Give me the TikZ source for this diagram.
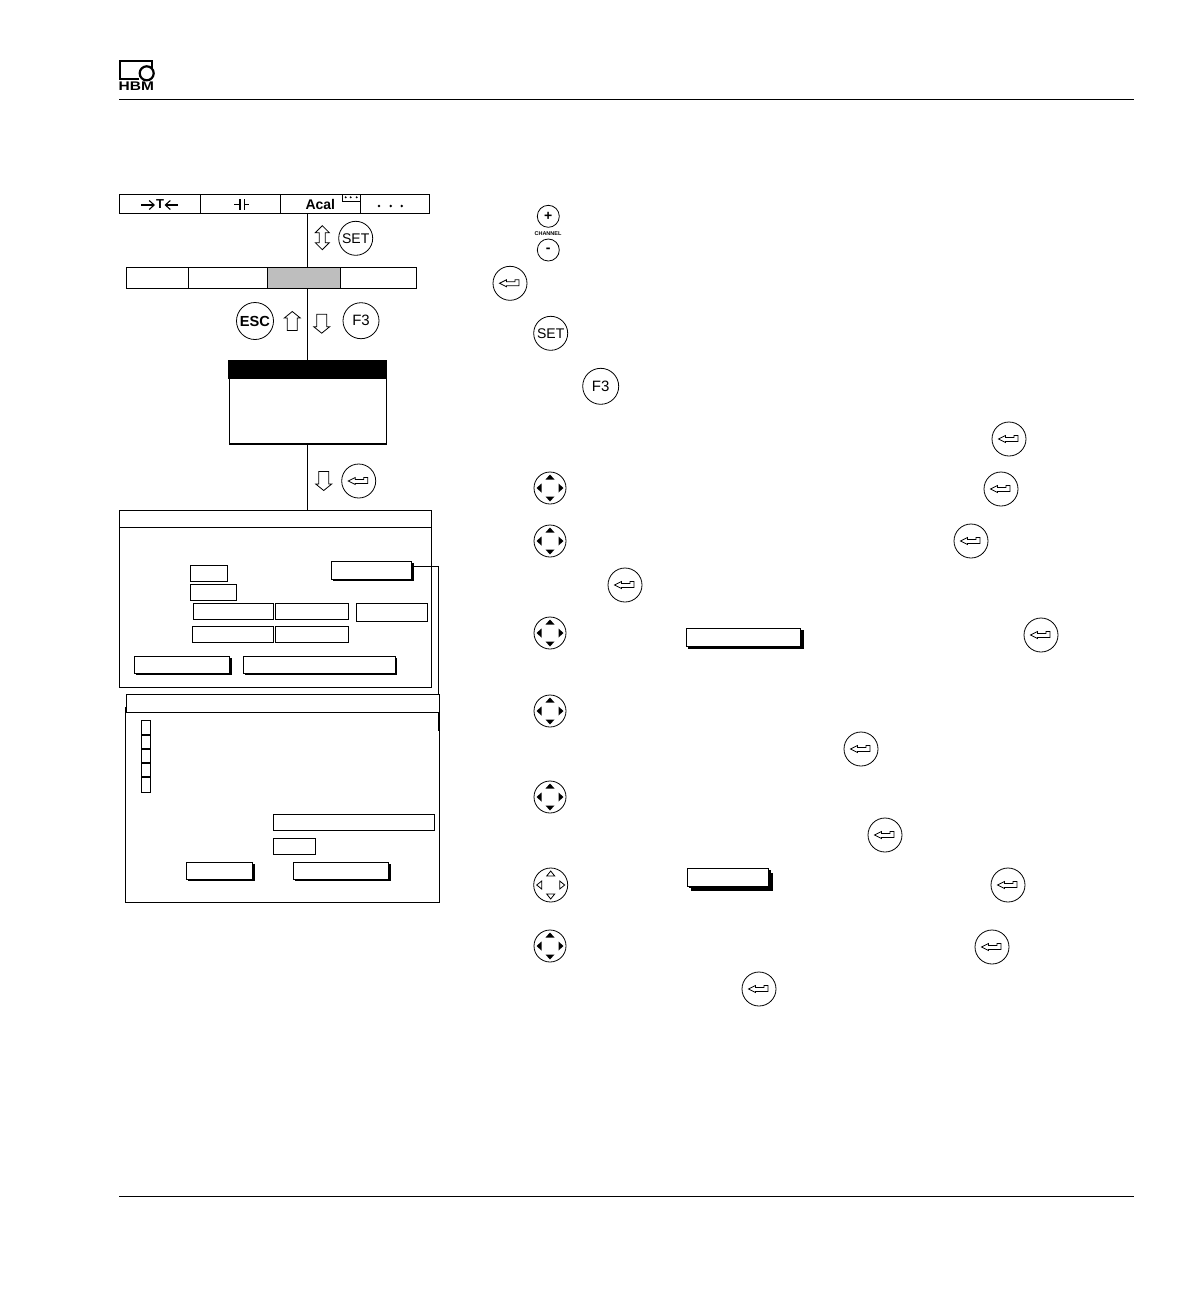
\documentclass[tikz,border=0pt]{standalone}
\usepackage{fontspec}
\setmainfont{Liberation Sans}
\usetikzlibrary{arrows.meta, positioning, shadows}
\definecolor{CellGray}{rgb}{0.745, 0.745, 0.745}

\begin{document}
\begin{tikzpicture}[
    x=1pt, y=-1pt,
    line width=1pt,
    font=\fontsize{14pt}{16pt}\selectfont,
    cell/.style={draw, fill=white, inner sep=0pt, outer sep=0pt},
    tabcell/.style={cell, minimum height=19pt},
    barcell/.style={cell, minimum height=21pt},
    fieldbox/.style={cell, anchor=north west, minimum height=16pt},
    shadowbtn/.style={cell, anchor=north west, minimum height=17pt,
        general shadow={fill=black, shadow xshift=1.8pt, shadow yshift=-1.8pt}},
    chkbox/.style={cell, anchor=north west, minimum width=9pt, minimum height=14.3pt},
    knob/.style={draw, circle, inner sep=0pt, outer sep=0pt, line width=0.8pt, minimum size=34pt},
    hollow/.style={line width=0.8pt, fill=white},
    barb/.style={line width=1.1pt, -{Straight Barb[length=5pt, width=9pt]}},
    enterkey/.pic={
        \node[knob] (-c) at (0,0) {};
        \draw[hollow] (-10.5,0) -- (-3.5,-3.5) -- (-3.5,-1.5) -- (5,-1.5) -- (5,-3.5) -- (9,-3.5)
            -- (9,2.5) -- (-3.5,2.5) -- (-3.5,3.5) -- cycle;
    },
    cursorkey/.pic={
        \node[knob, minimum size=32pt] (-c) at (0,0) {};
        \fill (0,-13.5) -- (4.5,-8.5) -- (-4.5,-8.5) -- cycle;
        \fill (0,13.5) -- (4.5,8.5) -- (-4.5,8.5) -- cycle;
        \fill (-13.5,0) -- (-8.5,-4.5) -- (-8.5,4.5) -- cycle;
        \fill (13.5,0) -- (8.5,-4.5) -- (8.5,4.5) -- cycle;
    },
    opencursor/.pic={
        \node[knob] (-c) at (0,0) {};
        \draw[hollow] (0,-14) -- (4,-9) -- (-4,-9) -- cycle;
        \draw[hollow] (0,14) -- (4,9) -- (-4,9) -- cycle;
        \draw[hollow] (-14,0) -- (-9,-4) -- (-9,4) -- cycle;
        \draw[hollow] (14,0) -- (9,-4) -- (9,4) -- cycle;
    },
    arrowdown/.pic={
        \draw[hollow] (-5,-9.5) -- (5,-9.5) -- (5,3) -- (8,3) -- (0,9.5) -- (-8,3) -- (-5,3) -- cycle;
    },
    arrowup/.pic={
        \draw[hollow] (-5,9.5) -- (5,9.5) -- (5,-3) -- (8,-3) -- (0,-9.5) -- (-8,-3) -- (-5,-3) -- cycle;
    },
    arrowboth/.pic={
        \draw[hollow] (0,-12) -- (7,-5) -- (3,-5) -- (3,5) -- (7,5) -- (0,12) -- (-7,5) -- (-3,5)
            -- (-3,-5) -- (-7,-5) -- cycle;
    },
]
\useasboundingbox (0,0) rectangle (1191,1304);

% logo
\draw[line width=2.2pt] (152.3,68) -- (152.3,61) -- (120.2,61) -- (120.2,79) -- (139,79);
\node[draw, fill=white, circle, line width=2.2pt, minimum size=14pt, inner sep=0pt] (logocirc) at (146.7,73.3) {};
\node[font=\fontsize{12.5pt}{13pt}\selectfont\bfseries, xscale=1.24, transform shape, inner sep=0pt]
    (logotext) at (136.3,86.2) {HBM};

% header and footer rules
\coordinate (topL) at (119,99);
\coordinate (topR) at (1134,99);
\coordinate (botL) at (119,1196);
\coordinate (botR) at (1134,1196);
\draw (topL) -- (topR);
\draw (botL) -- (botR);

% softkey bar
\node[tabcell, minimum width=81pt] (tab1) at (159.8,204) {};
\node[tabcell, minimum width=80pt, right=0pt of tab1] (tab2) {};
\node[tabcell, minimum width=80pt, right=0pt of tab2, font=\fontsize{14pt}{16pt}\selectfont\bfseries] (tab3) {Acal};
\node[tabcell, minimum width=69pt, right=0pt of tab3] (tab4) {};
\node[cell, minimum width=18pt, minimum height=7pt, anchor=north east, fill=none] (tabmark) at (tab3.north east) {};
\foreach \xx in {345.7,350.7,356.7} \fill (\xx,197.3) circle (1.1);
\foreach \xx in {379,390.7,401.7} \fill (\xx,206) circle (1.4);
% symbols in the softkeys
\node[font=\fontsize{13pt}{14pt}\selectfont\bfseries, inner sep=0pt] (tabT) at (160,204.5) {T};
\draw[barb] (141,205) -- (155,205);
\draw[barb] (178,205) -- (164.5,205);
\draw[line width=1.3pt] (234.3,204.5) -- (240,204.5) (240,199.3) -- (240,209.5);
\draw[line width=1.3pt] (244.3,199.3) -- (244.3,209.5) (244.3,204.5) -- (249,204.5);

% second bar
\node[barcell, minimum width=62pt] (bar1) at (157.4,278) {};
\node[barcell, minimum width=79pt, right=0pt of bar1] (bar2) {};
\node[barcell, minimum width=73pt, right=0pt of bar2, fill=CellGray] (bar3) {};
\node[barcell, minimum width=76pt, right=0pt of bar3] (bar4) {};

% drop-down menu
\node[cell, anchor=north, minimum width=157pt, minimum height=84pt] (menu) at (307.8,360) {};
\node[cell, anchor=north west, fill=black, minimum width=157pt, minimum height=18.5pt] (menuhead) at (228.3,360) {};
\draw[line width=1.6pt] (menu.south west) -- (menu.south east);

% first dialog
\node[cell, anchor=north west, minimum width=312.4pt, minimum height=177pt] (dlgA) at (119.3,510.3) {};
\node[cell, anchor=north west, minimum width=312.4pt, minimum height=17pt] (dlgAhead) at (119.3,510.3) {};
\node[shadowbtn, minimum width=80.4pt, minimum height=18pt] (btnMore) at (331.3,561.3) {};
\node[fieldbox, minimum width=37pt] (fldA) at (190.3,565.3) {};
\node[fieldbox, minimum width=46pt] (fldB) at (190.3,584.3) {};
\node[fieldbox, minimum width=80.4pt] (fldC) at (193.3,603.3) {};
\node[fieldbox, minimum width=73pt, right=1.6pt of fldC.north east, anchor=north west] (fldD) {};
\node[fieldbox, minimum width=71.4pt, minimum height=18pt] (fldE) at (356.3,603.3) {};
\node[fieldbox, minimum width=81.4pt] (fldF) at (192.3,626.3) {};
\node[fieldbox, minimum width=73pt, right=1.6pt of fldF.north east, anchor=north west] (fldG) {};
\node[shadowbtn, minimum width=95.4pt] (btnOkA) at (134.3,656.3) {};
\node[shadowbtn, minimum width=151.7pt] (btnWide) at (243.3,656.3) {};

% second dialog
\node[cell, anchor=north west, minimum width=314pt, minimum height=195.3pt] (dlgB) at (125.3,707) {};
\node[cell, anchor=north west, minimum width=313pt, minimum height=18pt] (dlgBhead) at (126.3,694.3) {};
\draw[line width=2pt] ([xshift=-0.6pt]dlgBhead.south east) -- ++(0,19);
\foreach \n/\yy/\hh in {1/720.3/14.4, 2/734.7/14, 3/748.7/14, 4/762.7/14.3, 5/777/15.7}
    \node[chkbox, minimum height=\hh pt] (chk\n) at (141.3,\yy) {};
\foreach \n in {1,2,3,4}
    \draw[line width=1.6pt] (chk\n.south west) -- (chk\n.south east);
\node[fieldbox, minimum width=161pt] (fldH) at (273.3,814.3) {};
\node[fieldbox, minimum width=42pt] (fldI) at (273.3,838.3) {};
\node[shadowbtn, minimum width=66.4pt] (btnOkB) at (186.3,862.3) {};
\node[shadowbtn, minimum width=95.4pt] (btnCancel) at (293.3,862.3) {};

% connections
\draw (tab3.south -| menu.north) -- (bar3.north -| menu.north);
\draw (bar3.south -| menu.north) -- (menu.north);
\draw (menu.south) -- (dlgA.north -| menu.south);
\draw ([yshift=4pt]btnMore.east) -| ([xshift=-0.8pt]dlgBhead.north east);

% keys next to the flow
\pic (flowboth) at (322.3,237.7) {arrowboth};
\node[knob] (keySetA) at (355.7,238.3) {SET};
\node[knob, minimum size=37pt, font=\fontsize{14.6pt}{16pt}\selectfont\bfseries] (keyEsc) at (255,321) {ESC};
\pic (flowup) at (292.3,321) {arrowup};
\pic (flowdownA) at (321.7,323.7) {arrowdown};
\node[knob, minimum size=36pt, font=\fontsize{15pt}{16pt}\selectfont] (keyFA) at (361,320.7) {F3};
\pic (flowdownB) at (323.7,481) {arrowdown};
\pic (enterA) at (358.7,481) {enterkey};

% keys of the right column
\node[knob, minimum size=22pt, font=\fontsize{14pt}{14pt}\selectfont\bfseries] (keyPlus) at (548.3,216.3) {+};
\node[inner sep=0pt, font=\fontsize{5.5pt}{6pt}\selectfont\bfseries] (lblChannel) at (548,233.3) {CHANNEL};
\node[knob, minimum size=22pt, font=\fontsize{14pt}{14pt}\selectfont\bfseries] (keyMinus) at (548.3,250) {-};
\node[knob] (keySetB) at (550.7,333.3) {SET};
\node[knob, minimum size=36pt, font=\fontsize{15pt}{16pt}\selectfont] (keyFB) at (600.7,386.3) {F3};
\foreach \n/\xx/\yy in {B/510/283.3, C/1009/439, D/1001/489, E/971/541, F/625/585, G/1041/635,
        H/861/749, I/885/835, J/1008/885, K/992/947, L/759/989}
    \pic (enter\n) at (\xx,\yy) {enterkey};
\foreach \n/\yy in {A/488, B/541, C/633, D/711, E/797, F/946}
    \pic (cursor\n) at (550,\yy) {cursorkey};
\pic (cursorG) at (550.7,885) {opencursor};

% buttons inside the text column
\node[shadowbtn, minimum width=113.7pt, minimum height=18.4pt,
      general shadow={fill=black, shadow xshift=3.5pt, shadow yshift=-2pt}] (btnInlineA) at (686.3,628.3) {};
\node[shadowbtn, minimum width=81.4pt, minimum height=18pt,
      general shadow={fill=black, shadow xshift=3.8pt, shadow yshift=-5pt}] (btnInlineB) at (687.3,868.3) {};

\end{tikzpicture}
\end{document}
